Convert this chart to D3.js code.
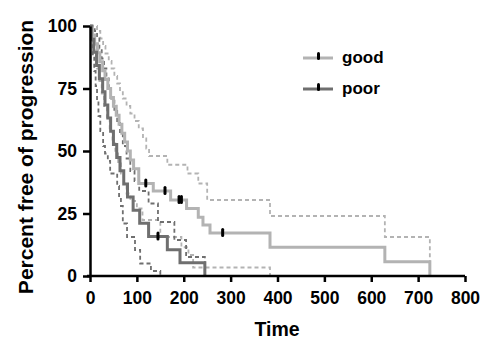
<!DOCTYPE html>
<html>
<head>
<meta charset="utf-8">
<script src="https://cdn.jsdelivr.net/npm/d3@7"></script>
<style>
  body { margin: 0; background: #fff; }
  text { font-family: "Liberation Sans", Arial, sans-serif; font-weight: bold; }
</style>
</head>
<body>
<div id="chart"></div>
<script>
// Kaplan-Meier estimates (time, percent)
const goodTime = [0, 5, 10, 16, 21, 27, 32, 38, 44, 50, 56, 62, 68, 74, 80, 86, 93, 104, 135, 172, 206, 231, 241, 256, 384, 629, 725];
const goodSurv = [100, 96.4, 92.9, 89.3, 85.7, 82.1, 78.6, 75, 71.4, 67.9, 64.3, 60.7, 57.1, 53.6, 50, 46.4, 42.9, 37, 34, 30.4, 27, 23.5, 20.4, 17.2, 11.5, 5.7, 0];
const goodUpperTime = [0, 15, 22, 28, 33, 40, 46, 52, 58, 64, 70, 78, 86, 95, 104, 113, 120, 126, 165, 208, 231, 250, 384, 629, 725];
const goodUpperSurv = [100, 98, 95, 92, 89, 86, 83, 80, 77, 74, 71, 68, 65, 62, 59, 55, 51, 48, 44.5, 41, 37, 30.4, 24, 15.6, 0];
const goodLowerTime = [0, 5, 10, 15, 20, 25, 30, 36, 42, 48, 54, 60, 66, 72, 78, 86, 100, 112, 150, 195, 210, 220, 384];
const goodLowerSurv = [100, 94, 88, 83, 78, 73, 68, 63, 58, 53, 49, 45, 41, 37, 33, 30, 27, 22.4, 15.6, 11.5, 8.4, 3.4, 0];

const poorTime = [0, 3, 8, 14, 20, 27, 32, 38, 44, 50, 57, 64, 72, 80, 92, 106, 125, 165, 192, 245];
const poorSurv = [100, 94.7, 89.5, 84.2, 78.9, 73.7, 68.4, 63.2, 57.9, 52.6, 47.4, 42.1, 36.8, 31.6, 26.3, 21.1, 15.8, 10.5, 5.3, 0];
const poorUpperTime = [0, 10, 15, 20, 25, 30, 35, 40, 45, 52, 58, 64, 70, 78, 86, 95, 105, 125, 145, 180, 205, 245];
const poorUpperSurv = [100, 98, 95, 91, 87, 83, 79, 75, 71, 66, 62, 57, 52, 47, 42, 38, 34, 29, 21.6, 14.4, 7.6, 0];
const poorLowerTime = [0, 3, 6, 9, 12, 15, 18, 22, 28, 32, 38, 43, 58, 62, 66, 70, 79, 96, 107, 130, 150];
const poorLowerSurv = [100, 95, 88, 82, 76, 70, 64, 58, 52, 49, 46, 41, 36, 32, 28, 21, 15.6, 10.4, 5, 2, 0];

// censored observations
const goodCensorTime = [119, 160, 190, 195, 283];
const goodCensorSurv = [37, 34, 30.4, 30.4, 17.2];
const poorCensorTime = [145];
const poorCensorSurv = [15.8];

const xTicks = [0, 100, 200, 300, 400, 500, 600, 700, 800];
const yTicks = [0, 25, 50, 75, 100];

const goodColor = '#b3b3b3';
const poorColor = '#6f6f6f';

const width = 481, height = 339;
const svg = d3.select('#chart').append('svg')
  .attr('width', width)
  .attr('height', height);

const x = d3.scaleLinear().domain([0, 800]).range([90, 465]);
const y = d3.scaleLinear().domain([0, 100]).range([276, 26]);

const line = d3.line()
  .x(d => x(d[0]))
  .y(d => y(d[1]))
  .curve(d3.curveStepAfter);

function pairs(t, s) { return t.map((v, i) => [v, s[i]]); }

const curves = [
  { t: goodUpperTime, s: goodUpperSurv, color: goodColor, dash: '4,3', w: 1.8 },
  { t: goodLowerTime, s: goodLowerSurv, color: goodColor, dash: '4,3', w: 1.8 },
  { t: poorUpperTime, s: poorUpperSurv, color: poorColor, dash: '4,3', w: 1.8 },
  { t: poorLowerTime, s: poorLowerSurv, color: poorColor, dash: '4,3', w: 1.8 },
  { t: goodTime, s: goodSurv, color: goodColor, dash: null, w: 3 },
  { t: poorTime, s: poorSurv, color: poorColor, dash: null, w: 3 }
];

svg.selectAll('.km')
  .data(curves)
  .enter()
  .append('path')
  .attr('class', 'km')
  .attr('d', d => line(pairs(d.t, d.s)))
  .attr('fill', 'none')
  .attr('stroke', d => d.color)
  .attr('stroke-width', d => d.w)
  .attr('stroke-dasharray', d => d.dash);

const censors = pairs(goodCensorTime, goodCensorSurv).concat(pairs(poorCensorTime, poorCensorSurv));
svg.selectAll('.censor')
  .data(censors)
  .enter()
  .append('rect')
  .attr('class', 'censor')
  .attr('x', d => x(d[0]) - 1.5)
  .attr('y', d => y(d[1]) - 5)
  .attr('width', 3)
  .attr('height', 9)
  .attr('rx', 1.5)
  .attr('fill', '#000');

// axes
const xAxis = svg.append('g')
  .attr('transform', `translate(0,${y(0)})`)
  .call(d3.axisBottom(x).tickValues(xTicks).tickSize(6).tickSizeOuter(0).tickPadding(10));
const yAxis = svg.append('g')
  .attr('transform', `translate(${x(0)},0)`)
  .call(d3.axisLeft(y).tickValues(yTicks).tickSize(7).tickSizeOuter(0).tickPadding(6));

[xAxis, yAxis].forEach(g => {
  g.select('.domain').attr('stroke', '#000').attr('stroke-width', 2.5);
  g.selectAll('.tick line').attr('stroke', '#000').attr('stroke-width', 2.5);
  g.selectAll('.tick text')
    .attr('fill', '#000')
    .style('font-size', '17.5px')
    .style('font-family', '"Liberation Sans", Arial, sans-serif')
    .style('font-weight', 'bold');
});
xAxis.select('.domain').attr('d', `M${x(0) - 3},0H${x(800)}`);

svg.append('text')
  .attr('x', 277)
  .attr('y', 336)
  .attr('text-anchor', 'middle')
  .style('font-size', '19.5px')
  .text('Time');

svg.append('text')
  .attr('transform', `translate(33,157) rotate(-90)`)
  .attr('text-anchor', 'middle')
  .style('font-size', '21px')
  .text('Percent free of progression');

// legend
const legendItems = [
  { name: 'good', color: goodColor, yPos: 58 },
  { name: 'poor', color: poorColor, yPos: 89 }
];
const lg = svg.selectAll('.legend')
  .data(legendItems)
  .enter()
  .append('g')
  .attr('class', 'legend');
lg.append('line')
  .attr('x1', 303).attr('x2', 333)
  .attr('y1', d => d.yPos).attr('y2', d => d.yPos)
  .attr('stroke', d => d.color)
  .attr('stroke-width', 3);
lg.append('rect')
  .attr('x', 317)
  .attr('y', d => d.yPos - 6)
  .attr('width', 3)
  .attr('height', 8)
  .attr('rx', 1.5)
  .attr('fill', '#000');
lg.append('text')
  .attr('x', 342)
  .attr('y', d => d.yPos + 5)
  .style('font-size', '17px')
  .text(d => d.name);
</script>
</body>
</html>
